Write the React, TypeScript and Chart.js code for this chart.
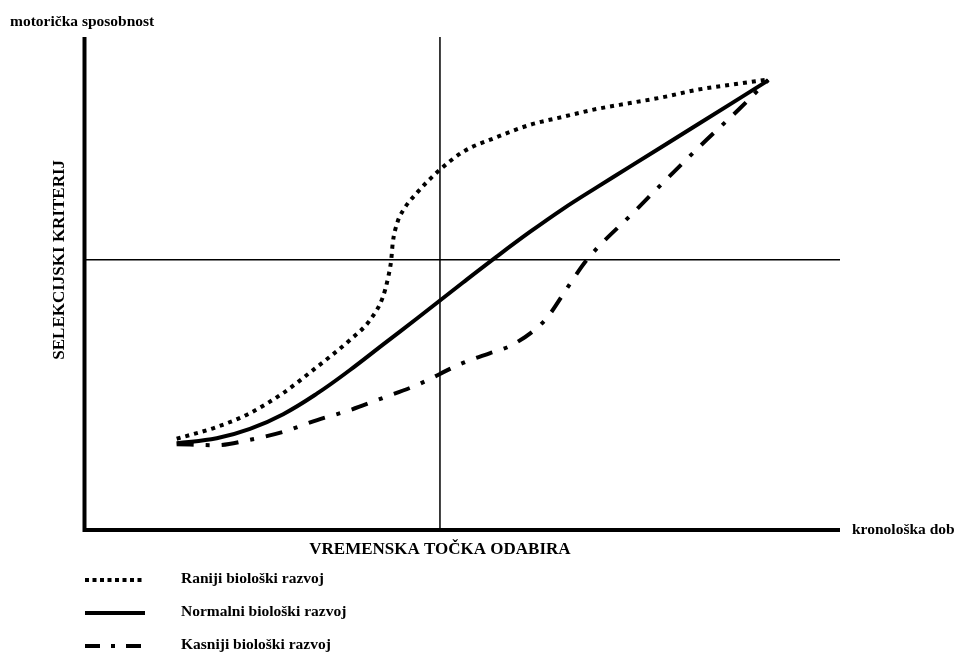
import { useEffect, useRef } from "react";
import { Chart, registerables } from "chart.js";

Chart.register(...registerables);

// ---- data (abstract units: x = chronological age 0..100, y = motor ability 0..100)
const ranijiX = [12.2, 17.5, 21.9, 26.3, 30.8, 35.1, 37.8, 39.5, 40.2, 40.6, 40.8, 41.4, 42.2, 44.0, 46.7, 50.1, 54.6, 59.0, 63.3, 67.8, 72.2, 76.6, 81.1, 85.5, 90.5];
const ranijiY = [18.5, 20.9, 23.7, 27.8, 33.1, 38.5, 42.6, 47.3, 51.3, 54.8, 58.2, 62.3, 64.9, 68.4, 72.6, 76.7, 79.7, 82.2, 83.8, 85.4, 86.6, 87.8, 89.3, 90.3, 91.4];

const normalniX = [12.2, 17.5, 21.9, 26.3, 30.8, 35.1, 39.5, 44.0, 50.1, 54.6, 59.0, 63.3, 67.8, 72.2, 81.1, 90.5];
const normalniY = [17.6, 18.6, 20.5, 23.5, 27.7, 32.4, 37.6, 42.9, 50.2, 55.5, 60.5, 65.1, 69.5, 73.7, 82.2, 91.2];

const kasnijiX = [12.2, 17.5, 21.9, 26.3, 30.8, 35.1, 39.5, 44.0, 50.1, 53.7, 56.3, 59.9, 61.4, 63.9, 66.5, 72.6, 77.2, 81.9, 86.8, 90.5];
const kasnijiY = [17.4, 17.2, 18.3, 19.9, 22.3, 24.3, 26.8, 29.4, 33.9, 35.9, 37.3, 41.0, 43.4, 49.1, 54.8, 64.3, 71.4, 78.5, 85.6, 91.3];

const seriesNames = ["Raniji biološki razvoj", "Normalni biološki razvoj", "Kasniji biološki razvoj"];
const seriesDash = [[4, 5], [], [17, 12, 4, 12]];
const legendDash = [[4, 3.5], [], [15, 11, 4, 11]];
const seriesMonotone = [true, false, true];

const selectionTime = 47.05; // VREMENSKA TOČKA ODABIRA
const selectionCriterion = 54.8; // SELEKCIJSKI KRITERIJ

const yTitle = "motorička sposobnost";
const xTitle = "kronološka dob";
const xGuideLabel = "VREMENSKA TOČKA ODABIRA";
const yGuideLabel = "SELEKCIJSKI KRITERIJ";

const FONT = "'Liberation Serif', 'Times New Roman', serif";

function toPoints(xs: number[], ys: number[]) {
  return xs.map((x, i) => ({ x, y: ys[i] }));
}

const decorPlugin = {
  id: "decor",
  beforeDatasetsDraw(chart: any) {
    const { ctx, chartArea, scales } = chart;
    const gx = scales.x.getPixelForValue(selectionTime);
    const gy = scales.y.getPixelForValue(selectionCriterion);
    ctx.save();
    ctx.strokeStyle = "#000";
    ctx.lineWidth = 1.5;
    ctx.beginPath();
    ctx.moveTo(gx, chartArea.top);
    ctx.lineTo(gx, chartArea.bottom);
    ctx.moveTo(chartArea.left, gy);
    ctx.lineTo(chartArea.right, gy);
    ctx.stroke();
    ctx.restore();
  },
  afterDraw(chart: any) {
    const { ctx, chartArea, scales } = chart;
    const gx = scales.x.getPixelForValue(selectionTime);
    const gy = scales.y.getPixelForValue(selectionCriterion);
    ctx.save();
    // thick axes
    ctx.strokeStyle = "#000";
    ctx.lineWidth = 4;
    ctx.lineCap = "butt";
    ctx.beginPath();
    ctx.moveTo(chartArea.left, chartArea.top);
    ctx.lineTo(chartArea.left, chartArea.bottom + 2);
    ctx.moveTo(chartArea.left - 2, chartArea.bottom);
    ctx.lineTo(chartArea.right, chartArea.bottom);
    ctx.stroke();

    ctx.fillStyle = "#000";
    ctx.textBaseline = "middle";
    // axis titles
    ctx.font = `bold 15.5px ${FONT}`;
    ctx.textAlign = "left";
    ctx.fillText(yTitle, 10, 22);
    ctx.fillText(xTitle, chartArea.right + 12, chartArea.bottom);
    // guide labels
    ctx.font = `bold 17px ${FONT}`;
    ctx.textAlign = "center";
    ctx.fillText(xGuideLabel, gx, chartArea.bottom + 20);
    ctx.save();
    ctx.translate(60, gy);
    ctx.rotate(-Math.PI / 2);
    ctx.fillText(yGuideLabel, 0, 0);
    ctx.restore();

    // legend
    const legendY = [580, 613, 646];
    ctx.font = `bold 15.5px ${FONT}`;
    ctx.textAlign = "left";
    seriesNames.forEach((name, i) => {
      ctx.save();
      ctx.lineWidth = 4;
      ctx.setLineDash(legendDash[i]);
      ctx.beginPath();
      ctx.moveTo(85, legendY[i]);
      ctx.lineTo(145, legendY[i]);
      ctx.stroke();
      ctx.restore();
      ctx.fillText(name, 181, legendY[i] - 1);
    });
    ctx.restore();
  },
};

export default function App() {
  const ref = useRef<HTMLCanvasElement | null>(null);
  useEffect(() => {
    if (!ref.current) return;
    const data = [
      toPoints(ranijiX, ranijiY),
      toPoints(normalniX, normalniY),
      toPoints(kasnijiX, kasnijiY),
    ];
    const chart = new Chart(ref.current, {
      type: "line",
      data: {
        datasets: data.map((d, i) => ({
          label: seriesNames[i],
          data: d,
          borderColor: "#000",
          borderWidth: 4,
          borderDash: seriesDash[i],
          pointRadius: 0,
          tension: 0.4,
          cubicInterpolationMode: (seriesMonotone[i] ? "monotone" : "default") as any,
          fill: false,
          clip: false as any,
        })),
      },
      options: {
        responsive: false,
        animation: false,
        devicePixelRatio: 1,
        layout: { padding: { left: 84.5, right: 116, top: 37, bottom: 123 } },
        scales: {
          x: { type: "linear", min: 0, max: 100, display: false },
          y: { type: "linear", min: 0, max: 100, display: false },
        },
        plugins: {
          legend: { display: false },
          tooltip: { enabled: false },
          title: { display: false },
        },
      },
      plugins: [decorPlugin],
    });
    return () => chart.destroy();
  }, []);
  return (
    <div style={{ position: "fixed", left: 0, top: 0, width: 956, height: 653, background: "#fff" }}>
      <canvas ref={ref} width={956} height={653} style={{ width: 956, height: 653 }} />
    </div>
  );
}
